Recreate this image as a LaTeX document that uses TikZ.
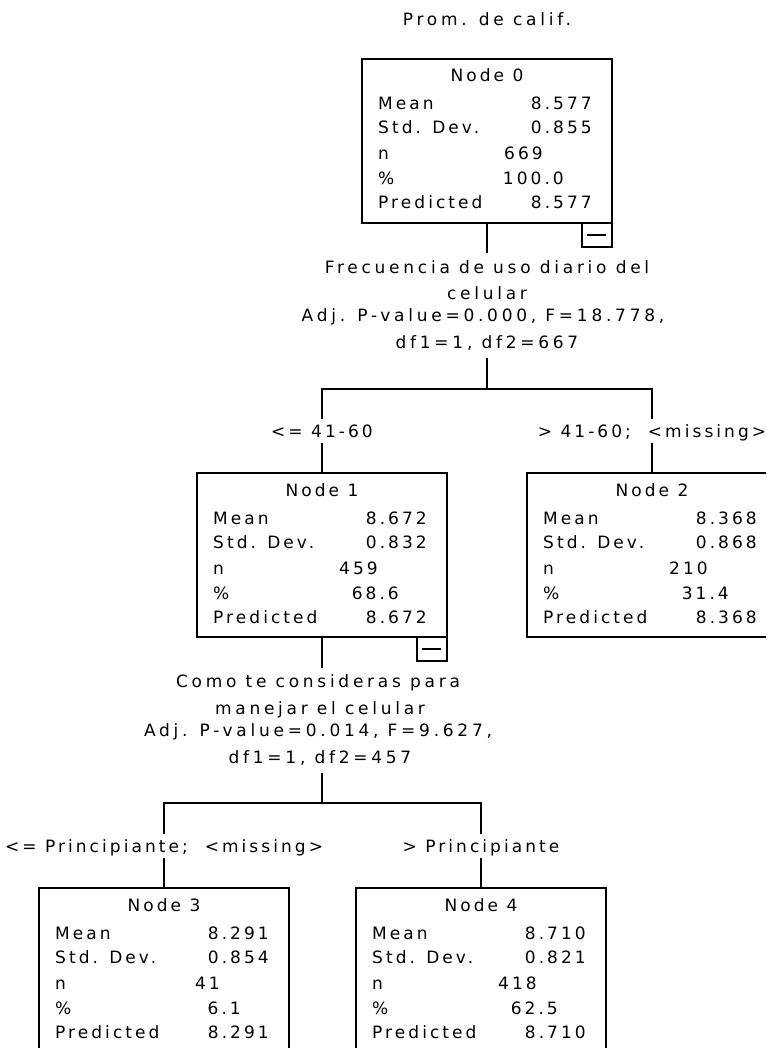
\documentclass[tikz,border=0pt]{standalone}
\usepackage{fontspec}
\setmainfont{DejaVu Sans}[LetterSpace=18]
\newfontfamily\widefont{DejaVu Sans}[LetterSpace=22]
\newcommand\treenode[9]{%
  \node[box, anchor=north west] (#1) at (#2,#3) {};
  \node[txt, anchor=base] (#1-title) at ([xshift=125pt,yshift=-23pt]#1.north west) {Node #4};
  \node[txt, anchor=base west] (#1-l1) at ([xshift=16pt,yshift=-51pt]#1.north west) {Mean};
  \node[txt, anchor=base west] (#1-l2) at ([xshift=16pt,yshift=-75pt]#1.north west) {Std. Dev.};
  \node[txt, anchor=base west] (#1-l3) at ([xshift=16pt,yshift=-101pt]#1.north west) {n};
  \node[txt, anchor=base west] (#1-l4) at ([xshift=16pt,yshift=-126pt]#1.north west) {\%};
  \node[txt, anchor=base west] (#1-l5) at ([xshift=16pt,yshift=-150pt]#1.north west) {Predicted};
  \node[txt, anchor=base east] (#1-v1) at ([xshift=230pt,yshift=-51pt]#1.north west) {#5};
  \node[txt, anchor=base east] (#1-v2) at ([xshift=230pt,yshift=-75pt]#1.north west) {#6};
  \node[txt, anchor=base east] (#1-v3) at ([xshift=181pt,yshift=-101pt]#1.north west) {#7};
  \node[txt, anchor=base east] (#1-v4) at ([xshift=202pt,yshift=-126pt]#1.north west) {#8};
  \node[txt, anchor=base east] (#1-v5) at ([xshift=230pt,yshift=-150pt]#1.north west) {#9};
}
\newcommand\minusbox[1]{%
  \node[mbox, anchor=north east] (#1-m) at (#1.south east) {};
  \draw[conn] ([xshift=5pt]#1-m.west) -- ([xshift=-6pt]#1-m.east);
}
\begin{document}
\begin{tikzpicture}[x=1pt,y=-1pt,
  font=\fontsize{17}{20}\selectfont,
  txt/.style={inner sep=0pt},
  wtxt/.style={inner sep=0pt, anchor=base, font=\fontsize{17}{20}\selectfont\widefont},
  box/.style={draw, line width=1.8pt, minimum width=250pt, minimum height=164pt, inner sep=0pt, outer sep=0pt},
  mbox/.style={draw, line width=1.8pt, minimum width=30pt, minimum height=24pt, inner sep=0pt, outer sep=0pt},
  conn/.style={line width=1.8pt},
  lab/.style={inner sep=0pt, outer sep=0pt, text height=12pt, text depth=0pt, minimum height=24pt}]
\useasboundingbox (0,0) rectangle (766,1048);
\clip (0,0) rectangle (766,1048);

\node[wtxt] (title) at (487,26) {Prom. de calif.};

\treenode{n0}{362}{59}{0}{8.577}{0.855}{669}{100.0}{8.577}
\minusbox{n0}
\treenode{n1}{197}{473}{1}{8.672}{0.832}{459}{68.6}{8.672}
\minusbox{n1}
\treenode{n2}{527}{473}{2}{8.368}{0.868}{210}{31.4}{8.368}
\treenode{n3}{39}{888}{3}{8.291}{0.854}{41}{6.1}{8.291}
\treenode{n4}{356}{888}{4}{8.710}{0.821}{418}{62.5}{8.710}

% split 1
\node[wtxt] (s0a) at (487,273) {Frecuencia de uso diario del};
\node[wtxt] (s0b) at (487,299) {celular};
\node[wtxt] (s0c) at (483,321) {Adj. P-value=0.000, F=18.778,};
\node[wtxt] (s0d) at (487,348) {df1=1, df2=667};
\coordinate (s0top) at (487,253);
\coordinate (s0bot) at (487,358);
\coordinate (b0) at (487,389);
\node[lab] (e1) at (322,431) {<= 41-60};
\node[lab] (e2) at (652,431) {> 41-60;~~<missing>};
\draw[conn] (n0.south) -- (s0top);
\draw[conn] (s0bot) -- (b0);
\draw[conn] (e1.north) |- (b0) -| (e2.north);
\draw[conn] (e1.south) -- (n1.north);
\draw[conn] (e2.south) -- (n2.north);

% split 2
\node[wtxt] (s1a) at (318,687) {Como te consideras para};
\node[wtxt] (s1b) at (320,714) {manejar el celular};
\node[wtxt] (s1c) at (318,736) {Adj. P-value=0.014, F=9.627,};
\node[wtxt] (s1d) at (320,763) {df1=1, df2=457};
\coordinate (s1top) at (322,668);
\coordinate (s1bot) at (322,773);
\coordinate (b1) at (322,803);
\node[lab] (e3) at (164,846) {<= Principiante;~~<missing>};
\node[lab] (e4) at (481,846) {> Principiante};
\draw[conn] (n1.south) -- (s1top);
\draw[conn] (s1bot) -- (b1);
\draw[conn] (e3.north) |- (b1) -| (e4.north);
\draw[conn] (e3.south) -- (n3.north);
\draw[conn] (e4.south) -- (n4.north);
\end{tikzpicture}
\end{document}
